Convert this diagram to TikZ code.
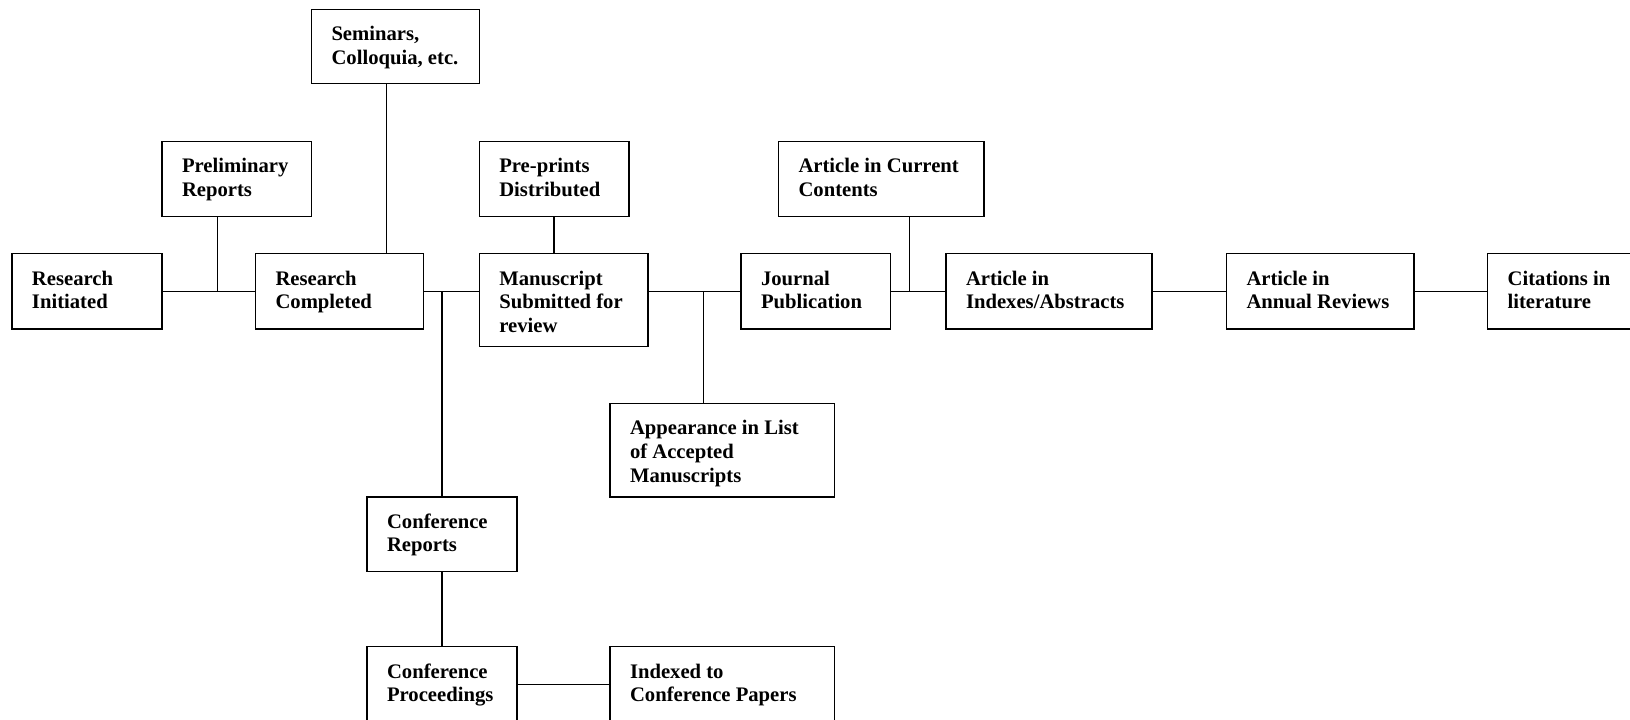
\documentclass[tikz,border=0pt]{standalone}
\usepackage{fontspec}
\setmainfont{Liberation Serif}
\newlength{\px}\setlength{\px}{0.75pt}
\newcommand{\boxtxt}[3]{\parbox[c][#2\px][t]{#1\px}{\fontsize{15.5pt}{17.7pt}\selectfont\bfseries\raggedright\leftskip=20\px\relax\rule{0pt}{31.5\px}#3}}
\begin{document}
\begin{tikzpicture}[x=0.75pt,y=-0.75pt,
  box/.style={draw,line width=1.2pt,inner sep=0pt,outer sep=0pt,anchor=north west},
  conn/.style={line width=1.1pt}]
\useasboundingbox (0,0) rectangle (1630,720);
\clip (0,0) rectangle (1630,720);
\node[box] (ri) at (12,253.5) {\boxtxt{150}{75.5}{Research\\Initiated}};
\node[box] (pr) at (162,141.5) {\boxtxt{149.5}{75}{Preliminary\\Reports}};
\node[box] (sem) at (311.5,9.5) {\boxtxt{168}{74}{Seminars,\\Colloquia, etc.}};
\node[box] (rc) at (255.5,253.5) {\boxtxt{168}{75.5}{Research\\Completed}};
\node[box] (pp) at (479.3,141.5) {\boxtxt{149.7}{75}{Pre-prints\\Distributed}};
\node[box] (ms) at (479.3,253.5) {\boxtxt{168.7}{93}{Manuscript\\Submitted for\\review}};
\node[box] (jp) at (741,253.5) {\boxtxt{149.5}{75.5}{Journal\\Publication}};
\node[box] (cc) at (778.5,141.5) {\boxtxt{205.5}{75}{Article in Current\\Contents}};
\node[box] (ia) at (946,253.5) {\boxtxt{206}{75.5}{Article in\\Indexes/Abstracts}};
\node[box] (ar) at (1226.5,253.5) {\boxtxt{187.5}{75.5}{Article in\\Annual Reviews}};
\node[box] (cl) at (1487.6,253.5) {\boxtxt{200}{75.5}{Citations in\\literature}};
\node[box] (al) at (610,403.3) {\boxtxt{224.5}{93.4}{Appearance in List\\of Accepted\\Manuscripts}};
\node[box] (cr) at (367,496.8) {\boxtxt{149.7}{74.7}{Conference\\Reports}};
\node[box] (cp) at (367,646.5) {\boxtxt{149.7}{76}{Conference\\Proceedings}};
\node[box] (ic) at (610,646.5) {\boxtxt{224.5}{76}{Indexed to\\Conference Papers}};
\coordinate (jpr) at (217.5,291);
\coordinate (jsem) at (386.5,291);
\coordinate (jal) at (703.7,291);
\coordinate (jcc) at (909.5,291);
\draw[conn] (ri.east) -- (rc.west);
\draw[conn] (pr.south -| jpr) -- (jpr);
\draw[conn] (sem.south -| jsem) -- (rc.north -| jsem);
\draw[conn] (rc.east) -- (ms.west |- rc.east);
\draw[conn] (cr.north) -- (cr.north |- rc.east);
\draw[conn] (pp.south) -- (pp.south |- ms.north);
\draw[conn] (ms.east |- jp.west) -- (jp.west);
\draw[conn] (jal) -- (jal |- al.north);
\draw[conn] (jp.east) -- (ia.west);
\draw[conn] (cc.south -| jcc) -- (jcc);
\draw[conn] (ia.east) -- (ar.west);
\draw[conn] (ar.east) -- (cl.west);
\draw[conn] (cr.south) -- (cp.north);
\draw[conn] (cp.east) -- (ic.west);
\end{tikzpicture}
\end{document}
